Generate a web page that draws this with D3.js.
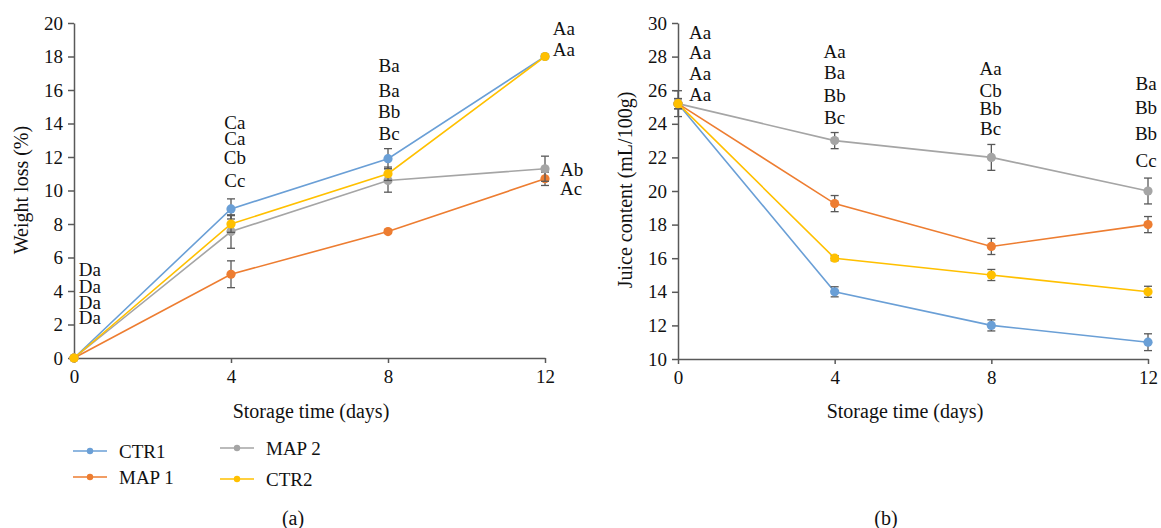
<!DOCTYPE html>
<html>
<head>
<meta charset="utf-8">
<script src="https://cdn.jsdelivr.net/npm/d3@7"></script>
<style>
body { margin: 0; background: #fff; }
svg { font-family: 'Liberation Serif', 'Times New Roman', serif; }
.axis path, .axis line { stroke: #595959; stroke-width: 1.5; }
.axis text { fill: #111; font-size: 19px; font-family: 'Liberation Serif', serif; }
</style>
</head>
<body>
<script>
var days = [0, 4, 8, 12];
var seriesNames = ['CTR1', 'MAP 1', 'MAP 2', 'CTR2'];
var colors = ['#6a9fd6', '#ed7d31', '#a5a5a5', '#ffc000'];

// (a) weight loss (%)
var lossCTR1 = [0, 8.9, 11.9, 18.0];
var lossMAP1 = [0, 5.0, 7.55, 10.7];
var lossMAP2 = [0, 7.55, 10.6, 11.3];
var lossCTR2 = [0, 8.0, 11.0, 18.0];
var lossErrCTR1 = [0, 0.6, 0.6, 0.1];
var lossErrMAP1 = [0, 0.8, 0.1, 0.4];
var lossErrMAP2 = [0, 1.0, 0.7, 0.75];
var lossErrCTR2 = [0, 0.5, 0.4, 0.1];

// (b) juice content (mL/100g)
var juiceCTR1 = [25.2, 14.0, 12.0, 11.0];
var juiceMAP1 = [25.2, 19.25, 16.7, 18.0];
var juiceMAP2 = [25.2, 23.0, 22.0, 20.0];
var juiceCTR2 = [25.2, 16.0, 15.0, 14.0];
var juiceErrCTR1 = [0.3, 0.3, 0.33, 0.5];
var juiceErrMAP1 = [0.3, 0.48, 0.48, 0.48];
var juiceErrMAP2 = [0.77, 0.48, 0.77, 0.77];
var juiceErrCTR2 = [0.3, 0.15, 0.33, 0.33];

var lossTicks = d3.range(0, 21, 2);
var juiceTicks = d3.range(10, 31, 2);

// letter annotations: [day, value, text, anchor]
var lossLabels = [
  [0.12, 5.3, 'Da', 'start'], [0.12, 4.3, 'Da', 'start'], [0.12, 3.35, 'Da', 'start'], [0.12, 2.4, 'Da', 'start'],
  [4.1, 14.05, 'Ca', 'middle'], [4.1, 13.1, 'Ca', 'middle'], [4.1, 12.0, 'Cb', 'middle'], [4.1, 10.6, 'Cc', 'middle'],
  [8.03, 17.5, 'Ba', 'middle'], [8.03, 15.95, 'Ba', 'middle'], [8.03, 14.7, 'Bb', 'middle'], [8.03, 13.4, 'Bc', 'middle'],
  [12.2, 19.7, 'Aa', 'start'], [12.2, 18.4, 'Aa', 'start'],
  [12.38, 11.28, 'Ab', 'start'], [12.38, 10.15, 'Ac', 'start']
];
var juiceLabels = [
  [0.28, 29.46, 'Aa', 'start'], [0.28, 28.27, 'Aa', 'start'], [0.28, 27.0, 'Aa', 'start'], [0.28, 25.77, 'Aa', 'start'],
  [4.0, 28.33, 'Aa', 'middle'], [4.0, 27.08, 'Ba', 'middle'], [4.0, 25.71, 'Bb', 'middle'], [4.0, 24.4, 'Bc', 'middle'],
  [7.98, 27.3, 'Aa', 'middle'], [7.98, 26.0, 'Cb', 'middle'], [7.98, 24.9, 'Bb', 'middle'], [7.98, 23.75, 'Bc', 'middle'],
  [11.95, 26.4, 'Ba', 'middle'], [11.95, 25.0, 'Bb', 'middle'], [11.95, 23.45, 'Bb', 'middle'], [11.95, 21.85, 'Cc', 'middle']
];

var svg = d3.select('body').append('svg')
    .attr('width', 1161)
    .attr('height', 528);

function drawPanel(opt) {
  var x = d3.scaleLinear().domain([0, 12]).range(opt.xr);
  var y = d3.scaleLinear().domain(opt.yd).range(opt.yr);

  svg.append('g')
      .attr('class', 'axis')
      .attr('transform', 'translate(' + opt.xr[0] + ',0)')
      .call(d3.axisLeft(y).tickValues(opt.ticks).tickSize(6).tickSizeOuter(0).tickPadding(5));
  svg.append('g')
      .attr('class', 'axis')
      .attr('transform', 'translate(0,' + opt.yr[0] + ')')
      .call(d3.axisBottom(x).tickValues(days).tickSize(5).tickSizeOuter(0).tickPadding(7));

  var line = d3.line()
      .x(function(d, i) { return x(days[i]); })
      .y(function(d) { return y(d); });

  opt.values.forEach(function(vals, s) {
    var g = svg.append('g');
    g.append('path')
        .datum(vals)
        .attr('fill', 'none')
        .attr('stroke', colors[s])
        .attr('stroke-width', 1.6)
        .attr('d', line);
    var errs = opt.errors[s];
    var eb = g.selectAll('g.err')
        .data(vals.map(function(v, i) { return {d: days[i], v: v, e: errs[i]}; }).filter(function(o) { return o.e > 0; }))
        .enter().append('g');
    eb.append('line')
        .attr('x1', function(o) { return x(o.d); })
        .attr('x2', function(o) { return x(o.d); })
        .attr('y1', function(o) { return y(o.v - o.e); })
        .attr('y2', function(o) { return y(o.v + o.e); })
        .attr('stroke', '#595959').attr('stroke-width', 1.3);
    [-1, 1].forEach(function(sg) {
      eb.append('line')
          .attr('x1', function(o) { return x(o.d) - 4; })
          .attr('x2', function(o) { return x(o.d) + 4; })
          .attr('y1', function(o) { return y(o.v + sg * o.e); })
          .attr('y2', function(o) { return y(o.v + sg * o.e); })
          .attr('stroke', '#595959').attr('stroke-width', 1.3);
    });
    g.selectAll('circle')
        .data(vals)
        .enter().append('circle')
        .attr('cx', function(d, i) { return x(days[i]); })
        .attr('cy', function(d) { return y(d); })
        .attr('r', 4.6)
        .attr('fill', colors[s]);
  });

  svg.append('g').selectAll('text')
      .data(opt.labels)
      .enter().append('text')
      .attr('x', function(d) { return x(d[0]); })
      .attr('y', function(d) { return y(d[1]); })
      .attr('dy', '0.35em')
      .attr('text-anchor', function(d) { return d[3]; })
      .attr('font-size', 19)
      .attr('fill', '#111')
      .text(function(d) { return d[2]; });

  svg.append('text')
      .attr('transform', 'translate(' + opt.ytx + ',190) rotate(-90)')
      .attr('text-anchor', 'middle')
      .attr('dy', '0.35em')
      .attr('font-size', 20)
      .attr('fill', '#111')
      .text(opt.ytitle);

  svg.append('text')
      .attr('x', opt.xtx)
      .attr('y', 411)
      .attr('dy', '0.35em')
      .attr('text-anchor', 'middle')
      .attr('font-size', 20)
      .attr('fill', '#111')
      .text('Storage time (days)');

  svg.append('text')
      .attr('x', opt.capx)
      .attr('y', 518)
      .attr('dy', '0.35em')
      .attr('text-anchor', 'middle')
      .attr('font-size', 20)
      .attr('fill', '#111')
      .text(opt.caption);
}

drawPanel({
  xr: [74, 545], yr: [358, 23], yd: [0, 20], ticks: lossTicks,
  values: [lossCTR1, lossMAP1, lossMAP2, lossCTR2],
  errors: [lossErrCTR1, lossErrMAP1, lossErrMAP2, lossErrCTR2],
  labels: lossLabels, ytitle: 'Weight loss (%)', ytx: 21, xtx: 311, capx: 293, caption: '(a)'
});
drawPanel({
  xr: [678, 1148], yr: [359, 23], yd: [10, 30], ticks: juiceTicks,
  values: [juiceCTR1, juiceMAP1, juiceMAP2, juiceCTR2],
  errors: [juiceErrCTR1, juiceErrMAP1, juiceErrMAP2, juiceErrCTR2],
  labels: juiceLabels, ytitle: 'Juice content (mL/100g)', ytx: 625, xtx: 905, capx: 886, caption: '(b)'
});

// legend (under panel a)
var legendPos = [[73, 451], [73, 477], [220, 448], [220, 479]];
var legend = svg.append('g').selectAll('g')
    .data(seriesNames)
    .enter().append('g')
    .attr('transform', function(d, i) { return 'translate(' + legendPos[i][0] + ',' + legendPos[i][1] + ')'; });
legend.append('line')
    .attr('x1', 0).attr('x2', 34).attr('y1', 0).attr('y2', 0)
    .attr('stroke', function(d, i) { return colors[i]; })
    .attr('stroke-width', 1.6);
legend.append('circle')
    .attr('cx', 17).attr('cy', 0).attr('r', 3.2)
    .attr('fill', function(d, i) { return colors[i]; });
legend.append('text')
    .attr('x', 46).attr('dy', '0.35em')
    .attr('font-size', 19)
    .attr('fill', '#111')
    .text(function(d) { return d; });
</script>
</body>
</html>
